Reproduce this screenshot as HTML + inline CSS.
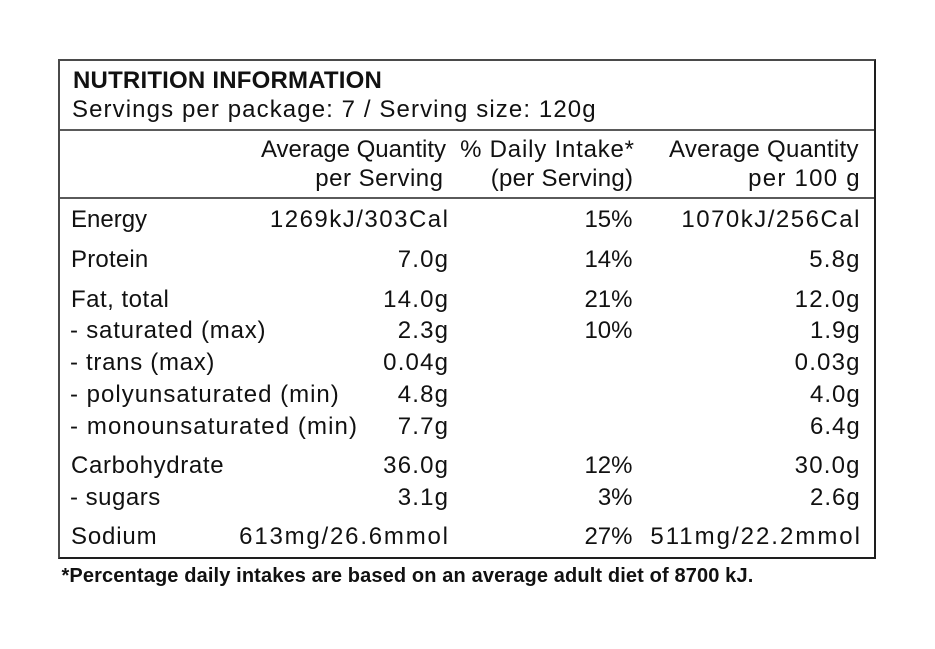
<!DOCTYPE html>
<html>
<head>
<meta charset="utf-8">
<style>
  html,body{margin:0;padding:0;background:#fff;}
  body{width:935px;height:649px;position:relative;overflow:hidden;
       font-family:"Liberation Sans",Arial,sans-serif;color:#111;}
  .t{position:absolute;font-size:24px;line-height:24px;white-space:nowrap;}
  .b{font-weight:bold;}
  .box{position:absolute;left:58px;top:59px;width:818px;height:500px;box-sizing:border-box;
       border-top:2px solid #4a4a4a;border-left:2px solid #4a4a4a;
       border-right:2.5px solid #1e1e1e;border-bottom:2.5px solid #1e1e1e;}
  .hl{position:absolute;left:60px;width:814px;height:2px;background:#5a5a5a;}
  .fn{position:absolute;font-size:20px;line-height:20px;font-weight:bold;white-space:nowrap;}
</style>
</head>
<body>
<div class="box"></div>
<div class="hl" style="top:129px;"></div>
<div class="hl" style="top:197px;"></div>

<!-- title -->
<div class="t b" style="left:73px;top:69px;letter-spacing:0.2px;">NUTRITION INFORMATION</div>
<div class="t" style="left:72px;top:98px;letter-spacing:1.1px;">Servings per package: 7 / Serving size: 120g</div>

<!-- header -->
<div class="t" style="right:489px;top:138px;">Average Quantity</div>
<div class="t" style="right:491.5px;top:166.5px;letter-spacing:0.5px;">per Serving</div>
<div class="t" style="right:300.2px;top:138px;letter-spacing:0.8px;">% Daily Intake*</div>
<div class="t" style="right:301.7px;top:166.5px;letter-spacing:0.3px;">(per Serving)</div>
<div class="t" style="right:76.2px;top:138px;letter-spacing:0.3px;">Average Quantity</div>
<div class="t" style="right:74.2px;top:166.5px;letter-spacing:1.25px;">per 100 g</div>

<!-- labels -->
<div class="t" style="left:71px;top:208px;">Energy</div>
<div class="t" style="left:71px;top:248px;letter-spacing:0.2px;">Protein</div>
<div class="t" style="left:71px;top:287.5px;letter-spacing:0.5px;">Fat, total</div>
<div class="t" style="left:70px;top:319px;letter-spacing:0.8px;">- saturated (max)</div>
<div class="t" style="left:70px;top:351px;letter-spacing:0.7px;">- trans (max)</div>
<div class="t" style="left:70px;top:383px;letter-spacing:1.0px;">- polyunsaturated (min)</div>
<div class="t" style="left:70px;top:415px;letter-spacing:1.1px;">- monounsaturated (min)</div>
<div class="t" style="left:71px;top:454px;letter-spacing:0.65px;">Carbohydrate</div>
<div class="t" style="left:70px;top:486px;letter-spacing:0.5px;">- sugars</div>
<div class="t" style="left:71px;top:525px;letter-spacing:0.85px;">Sodium</div>

<!-- column 1 values -->
<div class="t" style="right:485.5px;top:208px;letter-spacing:1.5px;">1269kJ/303Cal</div>
<div class="t" style="right:485.8px;top:248px;letter-spacing:1.2px;">7.0g</div>
<div class="t" style="right:485.8px;top:287.5px;letter-spacing:1.2px;">14.0g</div>
<div class="t" style="right:485.8px;top:319px;letter-spacing:1.2px;">2.3g</div>
<div class="t" style="right:485.8px;top:351px;letter-spacing:1.2px;">0.04g</div>
<div class="t" style="right:485.8px;top:383px;letter-spacing:1.2px;">4.8g</div>
<div class="t" style="right:485.8px;top:415px;letter-spacing:1.2px;">7.7g</div>
<div class="t" style="right:485.8px;top:454px;letter-spacing:1.2px;">36.0g</div>
<div class="t" style="right:485.8px;top:486px;letter-spacing:1.2px;">3.1g</div>
<div class="t" style="right:485.2px;top:525px;letter-spacing:1.8px;">613mg/26.6mmol</div>

<!-- column 2 values -->
<div class="t" style="right:302.5px;top:208px;">15%</div>
<div class="t" style="right:302.5px;top:248px;">14%</div>
<div class="t" style="right:302.5px;top:287.5px;">21%</div>
<div class="t" style="right:302.5px;top:319px;">10%</div>
<div class="t" style="right:302.5px;top:454px;">12%</div>
<div class="t" style="right:302.5px;top:486px;">3%</div>
<div class="t" style="right:302.5px;top:525px;">27%</div>

<!-- column 3 values -->
<div class="t" style="right:74px;top:208px;letter-spacing:1.5px;">1070kJ/256Cal</div>
<div class="t" style="right:74.3px;top:248px;letter-spacing:1.2px;">5.8g</div>
<div class="t" style="right:74.3px;top:287.5px;letter-spacing:1.2px;">12.0g</div>
<div class="t" style="right:74.3px;top:319px;letter-spacing:1.0px;">1.9g</div>
<div class="t" style="right:74.3px;top:351px;letter-spacing:1.2px;">0.03g</div>
<div class="t" style="right:74.3px;top:383px;letter-spacing:1.0px;">4.0g</div>
<div class="t" style="right:74.3px;top:415px;letter-spacing:1.0px;">6.4g</div>
<div class="t" style="right:74.3px;top:454px;letter-spacing:1.2px;">30.0g</div>
<div class="t" style="right:74.3px;top:486px;letter-spacing:1.0px;">2.6g</div>
<div class="t" style="right:73px;top:525px;letter-spacing:2.0px;">511mg/22.2mmol</div>

<!-- footnote -->
<div class="fn" style="left:61.5px;top:566px;letter-spacing:0.13px;">*Percentage daily intakes are based on an average adult diet of 8700 kJ.</div>
</body>
</html>
